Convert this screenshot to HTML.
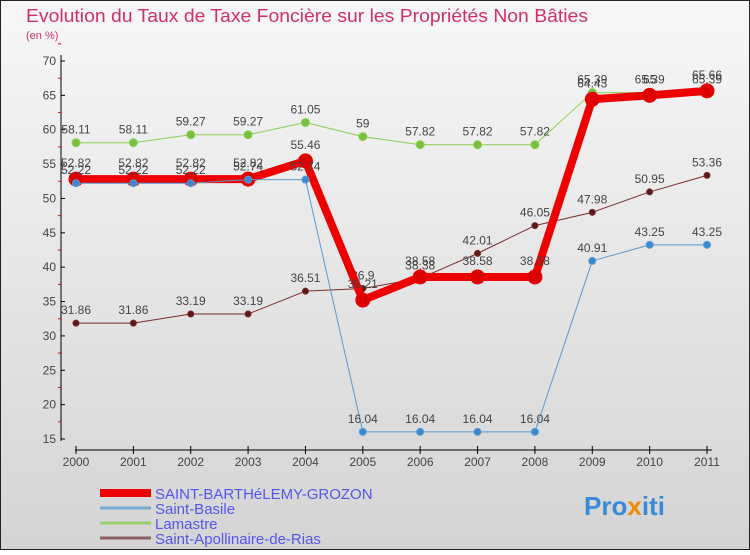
<!DOCTYPE html>
<html><head><meta charset="utf-8"><style>
html,body{margin:0;padding:0}
body{width:750px;height:550px;overflow:hidden;font-family:"Liberation Sans",sans-serif}
</style></head><body>
<svg id="chart" width="750" height="550" xmlns="http://www.w3.org/2000/svg" font-family="Liberation Sans, sans-serif">
<defs><linearGradient id="bg" x1="0" y1="0" x2="0" y2="1"><stop offset="0" stop-color="#f7f7f7"/><stop offset="1" stop-color="#d4d4d4"/></linearGradient></defs>
<rect x="0.5" y="0.5" width="749" height="549" fill="url(#bg)" stroke="#222"/>
<text x="26" y="22" font-size="18" fill="#d0306a" textLength="562" lengthAdjust="spacingAndGlyphs">Evolution du Taux de Taxe Foncière sur les Propriétés Non Bâties</text>
<text x="26" y="39" font-size="11" fill="#d0306a">(en %)</text>
<g id="axes"></g><g id="series"></g><g id="legend"></g>
<text x="584" y="515" font-size="26" font-weight="bold" fill="#3a8ad8">Pro<tspan fill="#f08a00">x</tspan>iti</text>
</svg>
<script>
const years=["2000","2001","2002","2003","2004","2005","2006","2007","2008","2009","2010","2011"];
const yTicks=[15,20,25,30,35,40,45,50,55,60,65,70];
const mainVals=[52.82,52.82,52.82,52.82,55.46,35.21,38.58,38.58,38.58,64.43,65,65.66];
const basileVals=[52.22,52.22,52.22,52.74,52.74,16.04,16.04,16.04,16.04,40.91,43.25,43.25];
const lamastreVals=[58.11,58.11,59.27,59.27,61.05,59,57.82,57.82,57.82,65.39,65.39,65.39];
const apolVals=[31.86,31.86,33.19,33.19,36.51,36.9,38.38,42.01,46.05,47.98,50.95,53.36];
const NS="http://www.w3.org/2000/svg";
const X=i=>76+i*(631/11);
const Y=v=>439-(v-15)*(378/55);
function mk(p,t,a){const e=document.createElementNS(NS,t);for(const k in a)e.setAttribute(k,a[k]);p.appendChild(e);return e;}
const ax=document.getElementById('axes');
let l=mk(ax,'line',{x1:61,y1:55,x2:61,y2:441,stroke:'#000'});

l=mk(ax,'line',{x1:75,y1:450,x2:712,y2:450,stroke:'#000'});

yTicks.forEach(v=>{
 mk(ax,'line',{x1:61,y1:Y(v),x2:65,y2:Y(v),stroke:'#000'});
 mk(ax,'line',{x1:58,y1:Y(v+2.5),x2:61,y2:Y(v+2.5),stroke:'#e00'});
 const t=mk(ax,'text',{x:56,y:Y(v)+4,'font-size':12,'text-anchor':'end',fill:'#444'});
 t.textContent=v;
});
years.forEach((y,i)=>{
 mk(ax,'line',{x1:X(i),y1:446,x2:X(i),y2:454,stroke:'#000'});
 const t=mk(ax,'text',{x:X(i),y:466,'font-size':12,'text-anchor':'middle',fill:'#444'});
 t.textContent=y;
});
const sg=document.getElementById('series');
function series(vals,name,color,w,r,dot,labelDy){
 const g=mk(sg,'g',{});
 
 mk(g,'polyline',{points:vals.map((v,i)=>X(i)+','+Y(v)).join(' '),fill:'none',stroke:color,'stroke-width':w,'stroke-linejoin':'round'});
 vals.forEach((v,i)=>{
  const c=mk(g,'circle',{cx:X(i),cy:Y(v),r:r,fill:dot,stroke:color,'stroke-width':1});
  
  const t=mk(g,'text',{x:X(i),y:Y(v)-labelDy,'font-size':12,'text-anchor':'middle',fill:'#444'});
  t.textContent=v;
 });
}
series(apolVals,'saint-apollinaire-series','#7a2a2a',1,3,'#5a1a1a',9);
series(lamastreVals,'lamastre-series','#88d050',1,4,'#7ac040',9);
series(mainVals,'saint-barthelemy-series','#ee0000',8,7,'#dd0000',12);
series(basileVals,'saint-basile-series','#5a9ad0',1,3.5,'#3a8ad0',9);
const lg=document.getElementById('legend');
const legNames=["SAINT-BARTHéLEMY-GROZON","Saint-Basile","Lamastre","Saint-Apollinaire-de-Rias"];
const legCols=["#ee0000","#7aaad0","#9ad070","#8a6060"];
const legW=[8,3,3,3];
legNames.forEach((n,i)=>{
 const yy=493+i*15;
 const g=mk(lg,'g',{});
 
 mk(g,'line',{x1:100,y1:yy,x2:151,y2:yy,stroke:legCols[i],'stroke-width':legW[i]});
 const t=mk(g,'text',{x:155,y:yy+6,'font-size':15,fill:'#5555ee'});t.textContent=n;
});
</script>
</body></html>
